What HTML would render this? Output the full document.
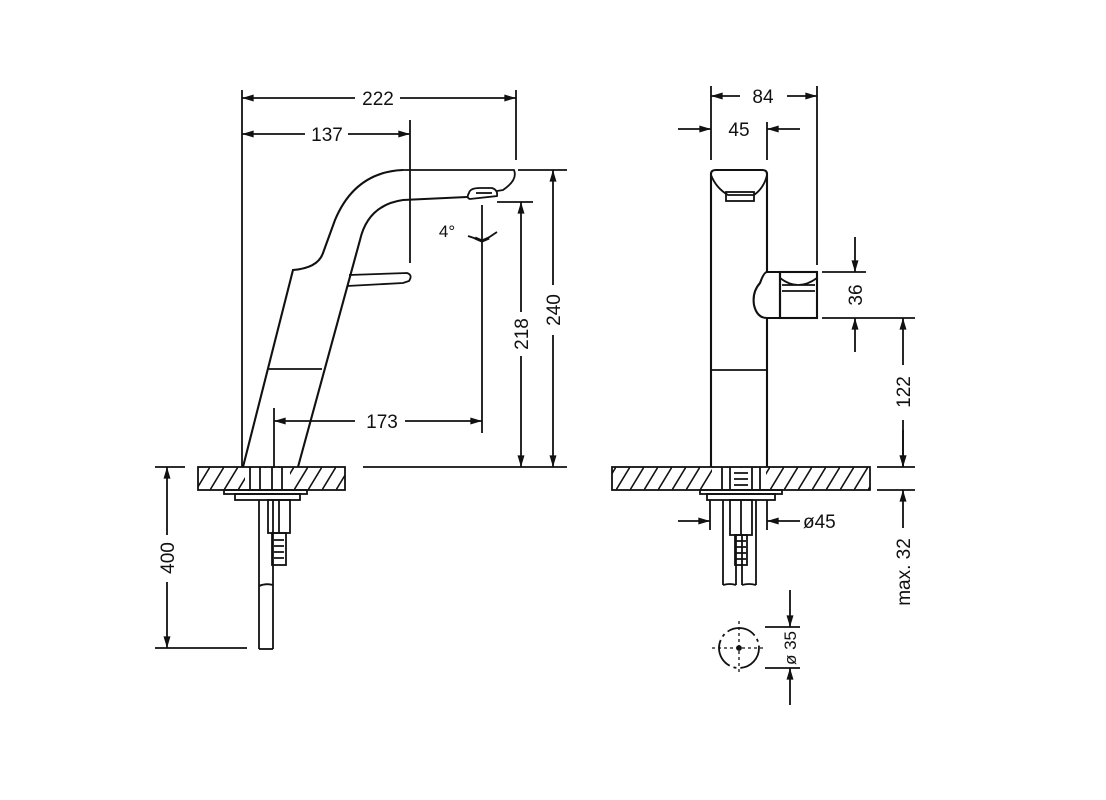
<!DOCTYPE html>
<html><head><meta charset="utf-8"><style>
html,body{margin:0;padding:0;background:#fff;}
svg{display:block;}
text{font-family:"Liberation Sans",sans-serif;font-size:19px;fill:#111;}
</style></head><body>
<svg width="1106" height="800" viewBox="0 0 1106 800" xmlns="http://www.w3.org/2000/svg">
<defs>
<marker id="a" viewBox="0 0 10 6" refX="10" refY="3" markerWidth="18" markerHeight="7" markerUnits="userSpaceOnUse" orient="auto"><path d="M0,0 L10,3 L0,6 z" fill="#111"/></marker>
<pattern id="h" patternUnits="userSpaceOnUse" width="14" height="23" patternTransform="translate(0,467)"><line x1="0" y1="23" x2="14" y2="0" stroke="#111" stroke-width="1.6"/></pattern>
</defs>
<g stroke="#111" stroke-width="1.8" fill="none">
<line x1="242" y1="90" x2="242" y2="467"/>
<line x1="516" y1="90" x2="516" y2="160"/>
<line x1="410" y1="120" x2="410" y2="263"/>
<line x1="355" y1="98" x2="242" y2="98" marker-end="url(#a)"/>
<line x1="400" y1="98" x2="516" y2="98" marker-end="url(#a)"/>
<line x1="305" y1="134" x2="242" y2="134" marker-end="url(#a)"/>
<line x1="348" y1="134" x2="410" y2="134" marker-end="url(#a)"/>
<path d="M403,170 L514,170 Q518,180 503,190 L497,191"/>
<path d="M403,170 Q355,172 335,220 L323,253 Q318,268 293,270 L243,467" stroke-width="2.1"/>
<path d="M467,197 L403,200 Q368,205 360,240 L298,467" stroke-width="2.1"/>
<path d="M469,193 Q470,188 480,188 L492,188 Q498,190 497,196 L470,199 Q466,198 469,193 z" stroke-width="1.8"/>
<path d="M476,193 L492,193"/>
<path d="M349,275 L407,273 Q413,275 409,281 L403,283 L347,286"/>
<line x1="268" y1="369" x2="322" y2="369"/>
<line x1="482" y1="205" x2="482" y2="433"/>
<path d="M468,236 L480,240 M497,232 L485,240" stroke-width="1.8"/>
<path d="M475,238 L482,241 L489,238" stroke-width="3"/>
<line x1="274" y1="408" x2="274" y2="470"/>
<line x1="355" y1="421" x2="274" y2="421" marker-end="url(#a)"/>
<line x1="405" y1="421" x2="482" y2="421" marker-end="url(#a)"/>
<line x1="497" y1="202" x2="533" y2="202"/>
<line x1="518" y1="170" x2="567" y2="170"/>
<line x1="363" y1="467" x2="567" y2="467"/>
<line x1="521" y1="312" x2="521" y2="202" marker-end="url(#a)"/>
<line x1="521" y1="356" x2="521" y2="467" marker-end="url(#a)"/>
<line x1="553" y1="285" x2="553" y2="170" marker-end="url(#a)"/>
<line x1="553" y1="335" x2="553" y2="467" marker-end="url(#a)"/>
<rect x="198" y="467" width="147" height="23" fill="url(#h)"/>
<rect x="245" y="468" width="45" height="21" fill="#fff" stroke="none"/>
<line x1="250" y1="467" x2="250" y2="490"/><line x1="260" y1="467" x2="260" y2="490"/><line x1="272" y1="467" x2="272" y2="490"/><line x1="282" y1="467" x2="282" y2="490"/>
<rect x="224" y="490" width="83" height="4"/>
<rect x="235" y="494" width="65" height="6"/>
<line x1="259" y1="500" x2="259" y2="649"/><line x1="273" y1="500" x2="273" y2="649"/><line x1="259" y1="649" x2="273" y2="649"/>
<rect x="268" y="500" width="22" height="33"/><line x1="279" y1="500" x2="279" y2="533"/>
<rect x="272" y="533" width="14" height="32"/>
<path d="M274,540h10M274,546h10M274,552h10M274,558h10"/>
<path d="M259,586 Q266,583 273,585"/>
<line x1="155" y1="467" x2="185" y2="467"/>
<line x1="155" y1="648" x2="247" y2="648"/>
<line x1="167" y1="535" x2="167" y2="467" marker-end="url(#a)"/>
<line x1="167" y1="582" x2="167" y2="648" marker-end="url(#a)"/>
<line x1="711" y1="86" x2="711" y2="160"/>
<line x1="767" y1="122" x2="767" y2="160"/>
<line x1="817" y1="86" x2="817" y2="265"/>
<line x1="740" y1="96" x2="711" y2="96" marker-end="url(#a)"/>
<line x1="787" y1="96" x2="817" y2="96" marker-end="url(#a)"/>
<line x1="678" y1="129" x2="711" y2="129" marker-end="url(#a)"/>
<line x1="800" y1="129" x2="767" y2="129" marker-end="url(#a)"/>
<path d="M711,467 L711,174 Q711,170 716,170 L762,170 Q767,170 767,174 L767,272 M767,318 L767,467" stroke-width="2.1"/>
<path d="M711,175 Q716,188 728,195 L754,195 Q764,188 767,175"/>
<rect x="726" y="192" width="28" height="9"/>
<line x1="711" y1="370" x2="767" y2="370"/>
<path d="M767,272 L780,272 L780,318 L767,318 Q757,318 754,305 Q752,292 760,283 Q764,272 767,272 z" stroke-width="2.1"/>
<rect x="780" y="272" width="37" height="46" stroke-width="2.1"/>
<path d="M780,278 Q798,292 817,278 M782,285 L815,285 M782,291 L815,291"/>
<line x1="822" y1="272" x2="866" y2="272"/>
<line x1="822" y1="318" x2="915" y2="318"/>
<line x1="855" y1="237" x2="855" y2="272" marker-end="url(#a)"/>
<line x1="855" y1="352" x2="855" y2="318" marker-end="url(#a)"/>
<line x1="903" y1="365" x2="903" y2="318" marker-end="url(#a)"/>
<line x1="903" y1="420" x2="903" y2="467" marker-end="url(#a)"/>
<rect x="612" y="467" width="258" height="23" fill="url(#h)"/>
<rect x="712" y="468" width="54" height="21" fill="#fff" stroke="none"/>
<line x1="722" y1="467" x2="722" y2="490"/><line x1="730" y1="467" x2="730" y2="490"/><line x1="752" y1="467" x2="752" y2="490"/><line x1="760" y1="467" x2="760" y2="490"/>
<path d="M734,473h14M734,479h14M734,485h14"/>
<line x1="877" y1="467" x2="915" y2="467"/>
<line x1="877" y1="490" x2="915" y2="490"/>
<line x1="903" y1="430" x2="903" y2="467" marker-end="url(#a)"/>
<line x1="903" y1="528" x2="903" y2="490" marker-end="url(#a)"/>
<rect x="700" y="490" width="82" height="4"/>
<rect x="707" y="494" width="68" height="6"/>
<line x1="710" y1="500" x2="710" y2="530"/><line x1="767" y1="500" x2="767" y2="530"/>
<line x1="723" y1="500" x2="723" y2="585"/><line x1="756" y1="500" x2="756" y2="585"/>
<line x1="736" y1="535" x2="736" y2="585"/><line x1="742" y1="535" x2="742" y2="585"/>
<path d="M723,585 Q730,583 736,585 M742,585 Q749,583 756,585"/>
<rect x="730" y="500" width="22" height="35"/><line x1="741" y1="500" x2="741" y2="535"/>
<rect x="735" y="535" width="12" height="30"/>
<path d="M736,541h10M736,547h10M736,553h10M736,559h10"/>
<line x1="678" y1="521" x2="710" y2="521" marker-end="url(#a)"/>
<line x1="800" y1="521" x2="767" y2="521" marker-end="url(#a)"/>
<circle cx="739" cy="648" r="20" stroke-dasharray="30 4 3 4"/>
<path d="M712,648 H766 M739,621 V675" stroke-dasharray="3 3" stroke-width="1.3"/>
<circle cx="739" cy="648" r="2" fill="#111"/>
<line x1="765" y1="627" x2="800" y2="627"/>
<line x1="765" y1="668" x2="800" y2="668"/>
<line x1="790" y1="590" x2="790" y2="627" marker-end="url(#a)"/>
<line x1="790" y1="705" x2="790" y2="668" marker-end="url(#a)"/>
</g>
<g>
<text x="378" y="105" text-anchor="middle">222</text>
<text x="327" y="141" text-anchor="middle">137</text>
<text x="382" y="428" text-anchor="middle">173</text>
<text x="447" y="237" text-anchor="middle" style="font-size:17px">4°</text>
<text transform="translate(528,334) rotate(-90)" text-anchor="middle">218</text>
<text transform="translate(560,310) rotate(-90)" text-anchor="middle">240</text>
<text transform="translate(174,558) rotate(-90)" text-anchor="middle">400</text>
<text x="763" y="103" text-anchor="middle">84</text>
<text x="739" y="136" text-anchor="middle">45</text>
<text transform="translate(862,295) rotate(-90)" text-anchor="middle">36</text>
<text transform="translate(910,392) rotate(-90)" text-anchor="middle">122</text>
<text transform="translate(910,572) rotate(-90)" text-anchor="middle">max. 32</text>
<text x="803" y="528">ø45</text>
<text transform="translate(796,648) rotate(-90)" text-anchor="middle" style="font-size:17px">ø 35</text>
</g>
</svg>
</body></html>
